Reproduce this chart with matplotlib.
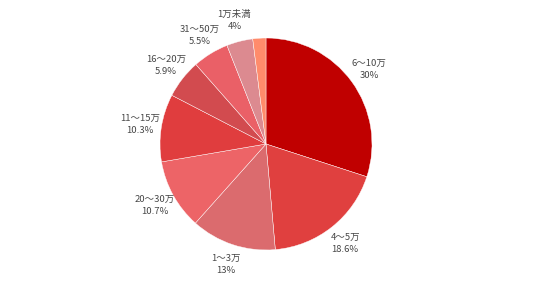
import numpy as np
import matplotlib
matplotlib.use('Agg')
import matplotlib.pyplot as plt

plt.rcParams['font.family'] = ['Noto Sans CJK JP', 'DejaVu Sans']

# 時計回り、12時の位置から
categories = ['6～10万', '4～5万', '1～3万', '20～30万', '11～15万',
              '16～20万', '31～50万', '1万未満', '']
values = [30, 18.6, 13, 10.7, 10.3, 5.9, 5.5, 4, 2]
pct_labels = ['30%', '18.6%', '13%', '10.7%', '10.3%', '5.9%', '5.5%', '4%', '']
colors = ['#C00000', '#E0403F', '#DB6B6E', '#ED6467', '#E03D3E',
          '#D24B4F', '#EA6067', '#DC8A90', '#FF8B6B']

fig = plt.figure(figsize=(5.36, 2.81), dpi=100)
ax = fig.add_axes([1 / 536, (137 - 143.1) / 281, 530 / 536, 286.2 / 281])

wedges, _ = ax.pie(values, colors=colors, startangle=90, counterclock=False,
                   radius=1.0, wedgeprops=dict(edgecolor='white', linewidth=0.3))

for w, cat, pct in zip(wedges, categories, pct_labels):
    if not cat:
        continue
    ang = np.deg2rad((w.theta1 + w.theta2) / 2)
    x = 1.2 * np.cos(ang)
    y = 1.2 * np.sin(ang)
    ax.text(x, y, cat + '\n' + pct, ha='center', va='center', fontsize=6.8,
            color='#474747', linespacing=1.45)

ax.set_xlim(-2.5, 2.5)
ax.set_ylim(-1.35, 1.35)
ax.set_aspect('equal')
ax.axis('off')

fig.savefig('out.png', dpi=100)
